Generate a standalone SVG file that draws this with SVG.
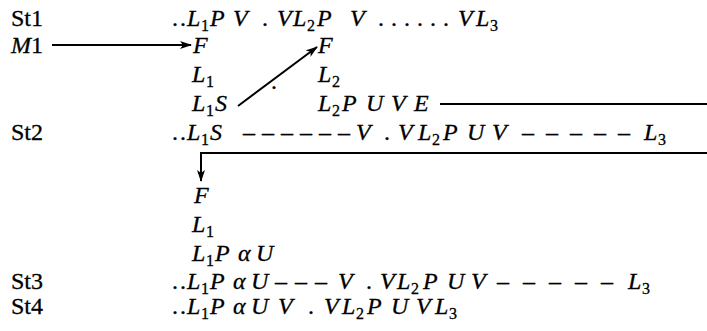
<svg xmlns="http://www.w3.org/2000/svg" width="707" height="331" viewBox="0 0 707 331">
<style>
text{font-family:"Liberation Serif","Times New Roman",Tinos,"Nimbus Roman","DejaVu Serif",serif;font-size:24px;fill:#000;stroke:#000;stroke-width:0.3}
.i{font-style:italic}
.s{font-size:16px;font-style:normal}
.ln{stroke:#000;stroke-width:2;fill:none}
</style>
<defs>
<marker id="ah" viewBox="0 0 12 8" refX="11" refY="4" markerWidth="12" markerHeight="8" markerUnits="userSpaceOnUse" orient="auto">
<path d="M0,0 L12,4 L0,8 L3,4 z" fill="#000"/>
</marker>
</defs>
<rect width="707" height="331" fill="#fff"/>

<g id="labels">
<text x="11" y="26">St1</text>
<text x="11" y="53"><tspan class="i">M</tspan>1</text>
<text x="11" y="140">St2</text>
<text x="11" y="289">St3</text>
<text x="11" y="314">St4</text>
</g>

<g id="st1-row">
<text y="26"><tspan x="172">.</tspan><tspan x="180">.</tspan><tspan class="i" x="187">L</tspan><tspan class="s" x="201" y="31">1</tspan><tspan class="i" x="210" y="26">P</tspan><tspan class="i" x="233">V</tspan><tspan x="262">.</tspan><tspan class="i" x="277">V</tspan><tspan class="i" x="293">L</tspan><tspan class="s" x="307" y="31">2</tspan><tspan class="i" x="317" y="26">P</tspan><tspan class="i" x="350">V</tspan><tspan x="378">.</tspan><tspan x="391">.</tspan><tspan x="404">.</tspan><tspan x="417">.</tspan><tspan x="430">.</tspan><tspan x="443">.</tspan><tspan class="i" x="458">V</tspan><tspan class="i" x="476">L</tspan><tspan class="s" x="490" y="31">3</tspan></text>
</g>

<g id="col1-top">
<text y="53"><tspan class="i" x="193">F</tspan></text>
<text y="82"><tspan class="i" x="192">L</tspan><tspan class="s" x="206" y="87">1</tspan></text>
<text y="111"><tspan class="i" x="192">L</tspan><tspan class="s" x="206" y="116">1</tspan><tspan class="i" x="215" y="111">S</tspan></text>
</g>

<g id="stray-dot">
<text x="271" y="89">.</text>
</g>

<g id="col2-top">
<text y="53"><tspan class="i" x="318">F</tspan></text>
<text y="82"><tspan class="i" x="318">L</tspan><tspan class="s" x="332" y="87">2</tspan></text>
<text y="111"><tspan class="i" x="318">L</tspan><tspan class="s" x="332" y="116">2</tspan><tspan class="i" x="342" y="111">P</tspan><tspan class="i" x="366">U</tspan><tspan class="i" x="391">V</tspan><tspan class="i" x="414">E</tspan></text>
</g>

<g id="st2-row">
<text y="140"><tspan x="172">.</tspan><tspan x="180">.</tspan><tspan class="i" x="187">L</tspan><tspan class="s" x="201" y="145">1</tspan><tspan class="i" x="210" y="140">S</tspan><tspan x="243">–</tspan><tspan x="262">–</tspan><tspan x="281">–</tspan><tspan x="300">–</tspan><tspan x="319">–</tspan><tspan x="338">–</tspan><tspan class="i" x="356">V</tspan><tspan x="384">.</tspan><tspan class="i" x="398">V</tspan><tspan class="i" x="418">L</tspan><tspan class="s" x="432" y="145">2</tspan><tspan class="i" x="443" y="140">P</tspan><tspan class="i" x="467">U</tspan><tspan class="i" x="492">V</tspan><tspan x="522">–</tspan><tspan x="546">–</tspan><tspan x="570">–</tspan><tspan x="594">–</tspan><tspan x="618">–</tspan><tspan class="i" x="644">L</tspan><tspan class="s" x="658" y="145">3</tspan></text>
</g>

<g id="col1-bottom">
<text y="203"><tspan class="i" x="194">F</tspan></text>
<text y="232"><tspan class="i" x="192">L</tspan><tspan class="s" x="206" y="237">1</tspan></text>
<text y="261"><tspan class="i" x="192">L</tspan><tspan class="s" x="206" y="266">1</tspan><tspan class="i" x="215" y="261">P</tspan><tspan class="i" x="238">α</tspan><tspan class="i" x="256">U</tspan></text>
</g>

<g id="st3-row">
<text y="289"><tspan x="172">.</tspan><tspan x="180">.</tspan><tspan class="i" x="187">L</tspan><tspan class="s" x="201" y="294">1</tspan><tspan class="i" x="210" y="289">P</tspan><tspan class="i" x="233">α</tspan><tspan class="i" x="251">U</tspan><tspan x="275">–</tspan><tspan x="295">–</tspan><tspan x="315">–</tspan><tspan class="i" x="338">V</tspan><tspan x="366">.</tspan><tspan class="i" x="380">V</tspan><tspan class="i" x="397">L</tspan><tspan class="s" x="411" y="294">2</tspan><tspan class="i" x="423" y="289">P</tspan><tspan class="i" x="447">U</tspan><tspan class="i" x="471">V</tspan><tspan x="497">–</tspan><tspan x="523">–</tspan><tspan x="549">–</tspan><tspan x="575">–</tspan><tspan x="601">–</tspan><tspan class="i" x="628">L</tspan><tspan class="s" x="642" y="294">3</tspan></text>
</g>

<g id="st4-row">
<text y="314"><tspan x="172">.</tspan><tspan x="180">.</tspan><tspan class="i" x="187">L</tspan><tspan class="s" x="201" y="319">1</tspan><tspan class="i" x="210" y="314">P</tspan><tspan class="i" x="233">α</tspan><tspan class="i" x="251">U</tspan><tspan class="i" x="278">V</tspan><tspan x="308">.</tspan><tspan class="i" x="324">V</tspan><tspan class="i" x="342">L</tspan><tspan class="s" x="356" y="319">2</tspan><tspan class="i" x="367" y="314">P</tspan><tspan class="i" x="391">U</tspan><tspan class="i" x="416">V</tspan><tspan class="i" x="435">L</tspan><tspan class="s" x="449" y="319">3</tspan></text>
</g>

<g id="connectors">
<line class="ln" x1="52" y1="45" x2="191" y2="45" marker-end="url(#ah)"/>
<line class="ln" x1="238" y1="106" x2="317" y2="47" marker-end="url(#ah)"/>
<line class="ln" x1="440" y1="104" x2="707" y2="104"/>
<polyline class="ln" points="707,153 201,153 201,181" marker-end="url(#ah)"/>
</g>
</svg>
